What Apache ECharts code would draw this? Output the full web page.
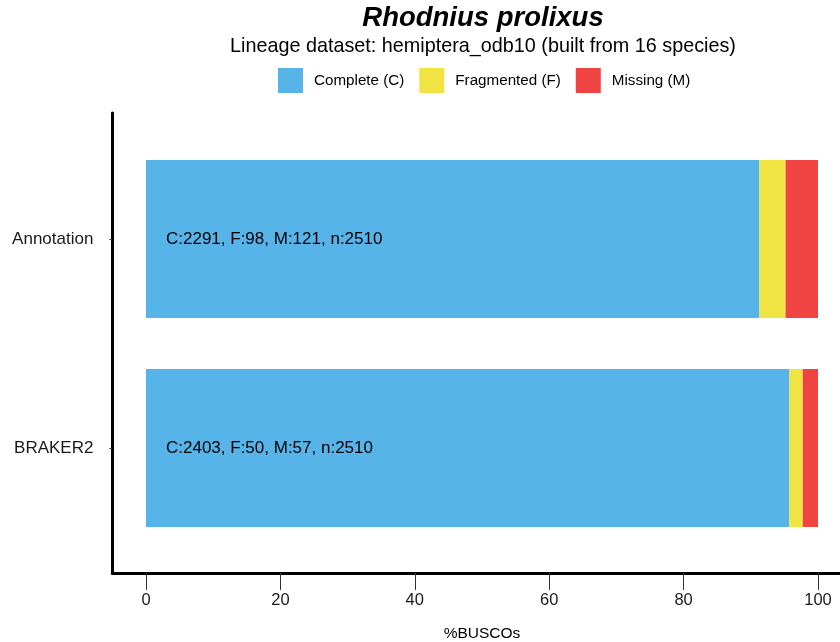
<!DOCTYPE html>
<html>
<head>
<meta charset="utf-8">
<script src="https://cdn.jsdelivr.net/npm/echarts@6/dist/echarts.min.js"></script>
<style>
html,body{margin:0;padding:0;background:#fff;}
#chart{width:840px;height:642px;}
</style>
</head>
<body>
<div id="chart"></div>
<script>
// ---- data ----
const categories = ['BRAKER2', 'Annotation'];          // bottom to top
const completeCounts = [2403, 2291];
const fragmentedCounts = [50, 98];
const missingCounts = [57, 121];
const totalCounts = [2510, 2510];
const seriesNames = ['Complete (C)', 'Fragmented (F)', 'Missing (M)'];
const xTicks = [0, 20, 40, 60, 80, 100];

const pct = (arr) => arr.map((v, i) => v / totalCounts[i] * 100);
const labels = categories.map((c, i) =>
  'C:' + completeCounts[i] + ', F:' + fragmentedCounts[i] + ', M:' + missingCounts[i] + ', n:' + totalCounts[i]);

const FONT = '"Liberation Sans", Arial, Helvetica, sans-serif';
const colors = ['#56B4E9', '#F0E442', '#F04442'];

const chart = echarts.init(document.getElementById('chart'), null, {renderer: 'canvas'});
const gridLeft = 112.4, gridWidth = 739.2;

chart.setOption({
  animation: false,
  backgroundColor: '#ffffff',
  textStyle: {fontFamily: FONT},
  title: [
    {text: 'Rhodnius prolixus', left: 478, textAlign: 'center', top: 0,
     textStyle: {fontFamily: FONT, fontSize: 27.5, fontWeight: 'bold', fontStyle: 'italic', color: '#000'}},
    {text: 'Lineage dataset: hemiptera_odb10 (built from 16 species)', left: 478, textAlign: 'center', top: 32,
     textStyle: {fontFamily: FONT, fontSize: 19.8, fontWeight: 'normal', color: '#000'}}
  ],
  legend: {
    left: 273, top: 63,
    itemWidth: 25, itemHeight: 25, itemGap: 15,
    icon: 'rect',
    data: seriesNames,
    textStyle: {fontFamily: FONT, fontSize: 15.2, color: '#000', padding: [0, 0, 0, 6]}
  },
  grid: [
    {left: gridLeft, top: 113, width: gridWidth, height: 460, outerBoundsMode: 'none'},
    {left: gridLeft, top: 134.5, width: gridWidth, height: 418, outerBoundsMode: 'none'}
  ],
  xAxis: [
    {gridIndex: 0, type: 'value', min: -5, max: 105,
     axisLine: {show: true, lineStyle: {color: '#000', width: 3}},
     axisTick: {show: true, length: 17, customValues: xTicks, lineStyle: {color: '#333', width: 1}},
     axisLabel: {show: true, customValues: xTicks, margin: 19, fontSize: 16.5, color: '#1a1a1a', fontFamily: FONT},
     splitLine: {show: false},
     name: '%BUSCOs', nameLocation: 'middle', nameGap: 53,
     nameTextStyle: {fontFamily: FONT, fontSize: 15.5, color: '#000'}},
    {gridIndex: 1, type: 'value', min: -5, max: 105, show: false, splitLine: {show: false}}
  ],
  yAxis: [
    {gridIndex: 0, type: 'value', min: 0, max: 1,
     axisLine: {show: true, onZero: false, lineStyle: {color: '#000', width: 3}},
     axisTick: {show: false}, axisLabel: {show: false}, splitLine: {show: false}},
    {gridIndex: 1, type: 'category', data: categories,
     axisLine: {show: false, onZero: false},
     axisTick: {show: true, alignWithLabel: true, length: 3, lineStyle: {color: '#333'}},
     axisLabel: {margin: 19, fontSize: 17, color: '#1a1a1a', fontFamily: FONT},
     splitLine: {show: false}}
  ],
  series: [
    {name: seriesNames[0], type: 'bar', stack: 'b', xAxisIndex: 1, yAxisIndex: 1,
     barWidth: 158, data: pct(completeCounts), itemStyle: {color: colors[0]},
     label: {show: true, position: 'insideLeft', distance: 20, fontFamily: FONT, fontSize: 17, color: '#000',
             formatter: (p) => labels[p.dataIndex]}},
    {name: seriesNames[1], type: 'bar', stack: 'b', xAxisIndex: 1, yAxisIndex: 1,
     barWidth: 158, data: pct(fragmentedCounts), itemStyle: {color: colors[1]}},
    {name: seriesNames[2], type: 'bar', stack: 'b', xAxisIndex: 1, yAxisIndex: 1,
     barWidth: 158, data: pct(missingCounts), itemStyle: {color: colors[2]}}
  ]
});
</script>
</body>
</html>
